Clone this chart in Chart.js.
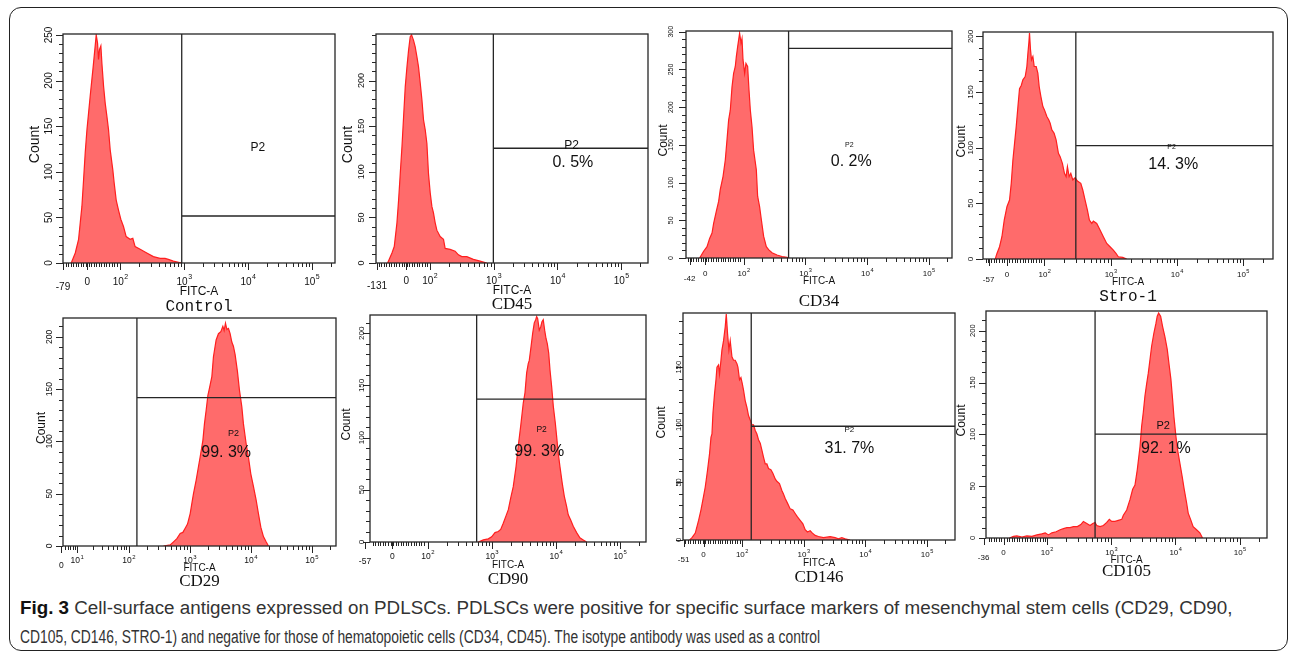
<!DOCTYPE html>
<html>
<head>
<meta charset="utf-8">
<script src="https://cdn.jsdelivr.net/npm/chart.js@4.4.0/dist/chart.umd.min.js"></script>
<style>
html, body { margin: 0; padding: 0; background: #fff; }
#fig { position: relative; width: 1290px; height: 660px; overflow: hidden; }
#frame { position: absolute; left: 9px; top: 7px; width: 1277px; height: 642px; border: 1.5px solid #222; border-radius: 12px; }
#fig canvas { position: absolute; }
.cap { position: absolute; left: 20px; font-family: "Liberation Sans", sans-serif; font-size: 18px; color: #333; white-space: nowrap; transform-origin: 0 0; }
.cap b { color: #111; }
</style>
</head>
<body>
<div id="fig">
  <div id="frame"></div>
  <div class="cap" id="cap1" style="top:598px"><b>Fig. 3</b> Cell-surface antigens expressed on PDLSCs. PDLSCs were positive for specific surface markers of mesenchymal stem cells (CD29, CD90,</div>
  <div class="cap" id="cap2" style="top:627px">CD105, CD146, STRO-1) and negative for those of hematopoietic cells (CD34, CD45). The isotype antibody was used as a control</div>
</div>
<script>
// histogram bins: [FITC-A display position (decades), count]
const controlHist = [[1.234,0],[1.297,11],[1.349,26],[1.375,44],[1.401,62],[1.427,91],[1.453,121],[1.48,146],[1.505,164],[1.531,183],[1.557,201],[1.573,212],[1.594,227],[1.609,238],[1.625,250],[1.646,241],[1.661,223],[1.677,234],[1.698,238],[1.714,219],[1.74,194],[1.766,175],[1.792,161],[1.818,146],[1.844,124],[1.885,102],[1.906,88],[1.938,69],[1.974,58],[2.01,48],[2.052,40],[2.094,29],[2.156,26],[2.198,27],[2.234,18],[2.313,15],[2.417,11],[2.52,7],[2.625,5],[2.703,5],[2.755,4],[2.833,2],[2.964,0]];
const cd45Hist = [[1.341,0],[1.409,11],[1.445,18],[1.487,44],[1.513,69],[1.539,98],[1.566,128],[1.591,160],[1.617,193],[1.644,215],[1.669,233],[1.695,248],[1.716,250],[1.747,244],[1.773,237],[1.8,226],[1.825,215],[1.852,197],[1.878,179],[1.903,157],[1.93,146],[1.956,131],[1.981,98],[2.008,77],[2.034,62],[2.059,55],[2.086,44],[2.112,36],[2.164,29],[2.216,26],[2.242,16],[2.32,15],[2.398,13],[2.45,9],[2.503,7],[2.581,7],[2.684,4],[2.789,2],[2.894,0]];
const cd34Hist = [[1.287,0],[1.352,9],[1.407,15],[1.449,26],[1.488,33],[1.514,46],[1.558,62],[1.595,75],[1.622,91],[1.666,108],[1.703,130],[1.731,157],[1.757,183],[1.784,196],[1.812,227],[1.838,245],[1.865,254],[1.882,267],[1.903,280],[1.919,289],[1.935,298],[1.958,285],[1.974,291],[1.99,263],[2.017,245],[2.038,258],[2.065,254],[2.087,223],[2.109,196],[2.136,174],[2.162,143],[2.206,117],[2.227,82],[2.259,68],[2.287,51],[2.324,29],[2.368,15],[2.405,11],[2.46,7],[2.541,4],[2.622,2],[2.703,1],[2.73,0]];
const stroHist = [[1.256,0],[1.282,5],[1.321,11],[1.357,20],[1.392,35],[1.433,47],[1.472,53],[1.498,68],[1.523,89],[1.548,104],[1.573,119],[1.599,137],[1.623,153],[1.649,156],[1.674,161],[1.709,164],[1.734,173],[1.75,185],[1.765,195],[1.774,203],[1.789,188],[1.804,179],[1.825,182],[1.845,173],[1.875,173],[1.9,167],[1.92,155],[1.946,146],[1.976,137],[2.0,134],[2.036,128],[2.066,125],[2.086,122],[2.112,116],[2.146,113],[2.176,107],[2.211,95],[2.237,92],[2.271,86],[2.302,77],[2.327,74],[2.347,83],[2.373,74],[2.398,77],[2.428,71],[2.463,73],[2.498,70],[2.549,68],[2.579,62],[2.614,53],[2.649,44],[2.679,35],[2.715,32],[2.739,34],[2.79,32],[2.84,26],[2.89,20],[2.941,14],[2.991,11],[3.041,8],[3.081,5],[3.116,2],[3.182,1.5],[3.243,0]];
const cd29Hist = [[2.573,0],[2.682,1],[2.737,4],[2.792,7],[2.846,12],[2.89,13],[2.928,17],[2.966,21],[3.01,31],[3.038,41],[3.064,50],[3.108,63],[3.146,76],[3.173,85],[3.218,101],[3.244,117],[3.272,130],[3.3,144],[3.326,151],[3.365,162],[3.391,181],[3.435,197],[3.473,203],[3.512,205],[3.545,210],[3.566,206],[3.588,213],[3.611,207],[3.637,208],[3.664,203],[3.692,195],[3.718,191],[3.746,183],[3.784,167],[3.817,149],[3.856,133],[3.882,117],[3.926,98],[3.964,85],[4.003,69],[4.046,57],[4.09,44],[4.128,31],[4.167,18],[4.21,9],[4.254,4],[4.292,0]];
const cd90Hist = [[2.79,0],[2.868,2],[2.946,3],[2.998,5],[3.05,9],[3.101,10],[3.139,12],[3.179,18],[3.222,25],[3.258,31],[3.295,42],[3.335,53],[3.378,72],[3.413,92],[3.451,111],[3.491,133],[3.518,143],[3.544,162],[3.569,171],[3.585,174],[3.612,187],[3.638,200],[3.663,210],[3.685,213],[3.7,216],[3.716,214],[3.741,203],[3.763,206],[3.783,211],[3.803,213],[3.825,203],[3.846,195],[3.866,190],[3.888,181],[3.908,165],[3.934,149],[3.96,130],[3.991,114],[4.012,101],[4.037,85],[4.064,72],[4.1,56],[4.131,44],[4.168,34],[4.193,26],[4.231,21],[4.271,15],[4.324,9],[4.375,4],[4.427,2],[4.479,0]];
const cd146Hist = [[1.151,0],[1.19,2],[1.243,6],[1.297,17],[1.335,26],[1.378,38],[1.405,46],[1.443,61],[1.475,75],[1.498,89],[1.514,92],[1.53,110],[1.556,127],[1.579,139],[1.595,150],[1.621,152],[1.637,144],[1.66,156],[1.676,165],[1.702,173],[1.729,185],[1.746,196],[1.767,179],[1.789,165],[1.81,173],[1.838,159],[1.864,156],[1.891,156],[1.919,153],[1.935,150],[1.961,139],[1.984,141],[2.005,136],[2.026,130],[2.053,121],[2.081,115],[2.107,108],[2.135,104],[2.162,100],[2.188,100],[2.216,95],[2.243,92],[2.269,87],[2.297,84],[2.324,78],[2.35,72],[2.378,66],[2.405,66],[2.431,62],[2.47,61],[2.502,58],[2.54,53],[2.567,51],[2.609,49],[2.648,43],[2.674,40],[2.702,36],[2.739,32],[2.783,27],[2.827,26],[2.864,23],[2.901,20],[2.945,17],[2.989,14],[3.026,9],[3.063,7],[3.107,8],[3.144,6],[3.188,4],[3.241,3],[3.323,2],[3.431,3],[3.512,2],[3.566,1],[3.621,2],[3.674,1],[3.755,0]];
const cd105Hist = [[1.419,0],[1.481,1.6],[1.534,2],[1.612,1],[1.689,2],[1.767,1.6],[1.845,3],[1.922,4],[1.974,5],[2.025,3],[2.078,5],[2.144,6],[2.207,8],[2.258,9],[2.311,10],[2.362,10],[2.413,11],[2.475,11],[2.528,13],[2.568,16],[2.621,14],[2.672,12],[2.714,14],[2.75,15],[2.776,12],[2.828,11],[2.879,12],[2.932,15],[2.972,18],[3.009,16],[3.061,16],[3.112,17],[3.165,18],[3.19,22],[3.242,27],[3.293,37],[3.335,47],[3.371,51],[3.407,66],[3.449,88],[3.475,108],[3.5,121],[3.526,137],[3.553,149],[3.578,159],[3.604,172],[3.63,185],[3.666,198],[3.697,207],[3.717,214],[3.739,217],[3.77,214],[3.801,204],[3.837,194],[3.873,182],[3.904,166],[3.93,153],[3.957,133],[3.977,117],[4.008,98],[4.034,85],[4.07,72],[4.106,59],[4.137,47],[4.174,34],[4.199,24],[4.236,18],[4.276,11],[4.329,8],[4.38,5],[4.422,0]];

// x tick positions (decades) and their labels; "10^k" is drawn with a superscript
const controlTicks = [1.105, 1.484, 2, 3, 4, 5];
const cd45Ticks = [1.175, 1.633, 2, 3, 4, 5];
const cd34Ticks = [1.125, 1.379, 2, 3, 4, 5];
const stroTicks = [1.155, 1.433, 2, 3, 4, 5];
const cd29Ticks = [0.899, 1.155, 2, 3, 4, 5];
const cd90Ticks = [1.022, 1.448, 2, 3, 4, 5];
const cd146Ticks = [1.053, 1.378, 2, 3, 4, 5];
const cd105Ticks = [1.016, 1.326, 2, 3, 4, 5];
const controlTickLabels = ['-79', '0', '10^2', '10^3', '10^4', '10^5'];
const cd45TickLabels = ['-131', '0', '10^2', '10^3', '10^4', '10^5'];
const cd34TickLabels = ['-42', '0', '10^2', '10^3', '10^4', '10^5'];
const stroTickLabels = ['-57', '0', '10^2', '10^3', '10^4', '10^5'];
const cd29TickLabels = ['0', '10^1', '10^2', '10^3', '10^4', '10^5'];
const cd90TickLabels = ['-57', '0', '10^2', '10^3', '10^4', '10^5'];
const cd146TickLabels = ['-51', '0', '10^2', '10^3', '10^4', '10^5'];
const cd105TickLabels = ['-36', '0', '10^2', '10^3', '10^4', '10^5'];

const countTicks200 = [0, 50, 100, 150, 200];
const controlCountTicks = [0, 50, 100, 150, 200, 250];
const cd34CountTicks = [0, 50, 100, 150, 200, 250, 300];
const cd146CountTicks = [0, 50, 100, 150];

// axis ranges: [xMin, xMax, countMax]
const controlRange = [1.105, 5.364, 251];
const cd45Range = [1.159, 5.419, 251];
const cd34Range = [1.066, 5.378, 301];
const stroRange = [1.071, 5.454, 204];
const cd29Range = [0.926, 5.399, 218];
const cd90Range = [1.1, 5.406, 217.5];
const cd146Range = [1.044, 5.457, 197];
const cd105Range = [1.053, 5.425, 219];

// P2 gate: [threshold position, marker level]
const controlGate = [2.964, 51.5];
const cd45Gate = [2.997, 125.8];
const cd34Gate = [2.729, 278];
const stroGate = [2.474, 101.9];
const cd29Gate = [2.137, 141.8];
const cd90Gate = [2.764, 136.8];
const cd146Gate = [2.151, 98.7];
const cd105Gate = [2.75, 100.3];

const titles = ['Control', 'CD45', 'CD34', 'Stro-1', 'CD29', 'CD90', 'CD146', 'CD105'];
const percents = ['', '0. 5%', '0. 2%', '14. 3%', '99. 3%', '99. 3%', '31. 7%', '92. 1%'];

// panel layout: plot box in page pixels, text sizes and offsets
const panels = [
  { hist: controlHist, ticks: controlTicks, tickLabels: controlTickLabels, yTicks: controlCountTicks, range: controlRange, gate: controlGate,
    box: [63, 34, 335, 263], p2At: [4.156, 126], pctAt: null, tickFont: 10, yFont: 10, yDx: 14, countFont: 14, countDx: 28, tickDy: 19,
    fitcFont: 12, fitcDy: 29, titleFont: '16px "Liberation Mono"', titleDy: 44, p2Font: 12 },
  { hist: cd45Hist, ticks: cd45Ticks, tickLabels: cd45TickLabels, yTicks: countTicks200, range: cd45Range, gate: cd45Gate,
    box: [376, 34, 648, 263], p2At: [4.222, 129], pctAt: [4.242, 110], tickFont: 10, yFont: 9, yDx: 14, countFont: 14, countDx: 28, tickDy: 18,
    fitcFont: 12, fitcDy: 28, titleFont: '17px "Liberation Serif"', titleDy: 42, p2Font: 12 },
  { hist: cd34Hist, ticks: cd34Ticks, tickLabels: cd34TickLabels, yTicks: cd34CountTicks, range: cd34Range, gate: cd34Gate,
    box: [686, 31, 952, 258], p2At: [3.713, 150], pctAt: [3.745, 128], tickFont: 8, yFont: 7, yDx: 15, countFont: 12, countDx: 22, tickDy: 16,
    fitcFont: 10, fitcDy: 23, titleFont: '17px "Liberation Serif"', titleDy: 44, p2Font: 7 },
  { hist: stroHist, ticks: stroTicks, tickLabels: stroTickLabels, yTicks: countTicks200, range: stroRange, gate: stroGate,
    box: [983, 32, 1273, 259], p2At: [3.922, 101], pctAt: [3.946, 85], tickFont: 8, yFont: 8, yDx: 12, countFont: 12, countDx: 21, tickDy: 16,
    fitcFont: 10, fitcDy: 23, titleFont: '16px "Liberation Mono"', titleDy: 38, p2Font: 7 },
  { hist: cd29Hist, ticks: cd29Ticks, tickLabels: cd29TickLabels, yTicks: countTicks200, range: cd29Range, gate: cd29Gate,
    box: [63, 318, 336, 546], p2At: [3.718, 108], pctAt: [3.599, 89], tickFont: 8.5, yFont: 8.5, yDx: 13, countFont: 12, countDx: 21, tickDy: 15,
    fitcFont: 10, fitcDy: 22.5, titleFont: '17px "Liberation Serif"', titleDy: 36, p2Font: 9 },
  { hist: cd90Hist, ticks: cd90Ticks, tickLabels: cd90TickLabels, yTicks: countTicks200, range: cd90Range, gate: cd90Gate,
    box: [370, 315, 646, 542], p2At: [3.778, 107.5], pctAt: [3.741, 86.7], tickFont: 8.5, yFont: 8, yDx: 8, countFont: 12, countDx: 23, tickDy: 14.5,
    fitcFont: 10, fitcDy: 23, titleFont: '17px "Liberation Serif"', titleDy: 38, p2Font: 8.5 },
  { hist: cd146Hist, ticks: cd146Ticks, tickLabels: cd146TickLabels, yTicks: cd146CountTicks, range: cd146Range, gate: cd146Gate,
    box: [683, 313, 955, 540], p2At: [3.744, 96], pctAt: [3.744, 79], tickFont: 8, yFont: 7.5, yDx: 4, countFont: 12, countDx: 21, tickDy: 15,
    fitcFont: 10, fitcDy: 23, titleFont: '17px "Liberation Serif"', titleDy: 38, p2Font: 8 },
  { hist: cd105Hist, ticks: cd105Ticks, tickLabels: cd105TickLabels, yTicks: countTicks200, range: cd105Range, gate: cd105Gate,
    box: [986, 311, 1267, 538], p2At: [3.811, 108], pctAt: [3.852, 86], tickFont: 8, yFont: 7.5, yDx: 13, countFont: 12, countDx: 24, tickDy: 15,
    fitcFont: 10, fitcDy: 22, titleFont: '17px "Liberation Serif"', titleDy: 34, p2Font: 11 }
];

const PAD = { left: 60, top: 12, right: 12, bottom: 60 };
const INK = '#262626';
const SANS = '"Liberation Sans", Arial, sans-serif';

function tickLabel(ctx, text, x, y, size) {
  ctx.textBaseline = 'middle';
  if (!text.startsWith('10^')) {
    ctx.font = `${size}px ${SANS}`;
    ctx.textAlign = 'center';
    ctx.fillText(text, x, y);
    return;
  }
  const exp = text.slice(3);
  ctx.font = `${size}px ${SANS}`;
  const w1 = ctx.measureText('10').width;
  ctx.font = `${size * 0.7}px ${SANS}`;
  const w2 = ctx.measureText(exp).width;
  const x0 = x - (w1 + w2) / 2;
  ctx.textAlign = 'left';
  ctx.font = `${size}px ${SANS}`;
  ctx.fillText('10', x0, y);
  ctx.font = `${size * 0.7}px ${SANS}`;
  ctx.fillText(exp, x0 + w1 + 0.5, y - size * 0.45);
}

// minor tick positions: dense comb in the linear part, log steps between decades
function minorTicks(p) {
  const out = [];
  const decades = p.ticks.filter((t, i) => p.tickLabels[i].startsWith('10^'));
  for (let v = p.range[0] + 0.04; v < decades[0] - 0.02; v += 0.04) out.push(v);
  for (let i = 0; i < decades.length; i++) {
    const a = decades[i];
    const span = i < decades.length - 1 ? decades[i + 1] - a : a - decades[i - 1];
    for (let m = 2; m <= 9; m++) {
      const v = a + Math.log10(m) * span;
      if (v <= p.range[1]) out.push(v);
    }
  }
  return out;
}

function axesPlugin(p, idx) {
  return {
    id: 'flowAxes' + idx,
    afterDatasetsDraw(chart) {
      const { ctx, chartArea: a, scales: { x, y } } = chart;
      ctx.save();
      ctx.strokeStyle = INK;
      ctx.fillStyle = '#111';
      ctx.lineWidth = 1.3;

      // plot frame
      ctx.strokeRect(a.left, a.top, a.right - a.left, a.bottom - a.top);

      // P2 gate: threshold line plus marker level to the right of it
      const gx = x.getPixelForValue(p.gate[0]);
      const gy = y.getPixelForValue(p.gate[1]);
      ctx.beginPath();
      ctx.moveTo(gx, a.top); ctx.lineTo(gx, a.bottom);
      ctx.moveTo(gx, gy); ctx.lineTo(a.right, gy);
      ctx.stroke();

      // x ticks below the axis
      ctx.lineWidth = 1;
      ctx.beginPath();
      p.ticks.forEach(v => {
        const px = Math.round(x.getPixelForValue(v)) + 0.5;
        ctx.moveTo(px, a.bottom); ctx.lineTo(px, a.bottom + 7);
      });
      minorTicks(p).forEach(v => {
        const px = Math.round(x.getPixelForValue(v)) + 0.5;
        ctx.moveTo(px, a.bottom); ctx.lineTo(px, a.bottom + 4);
      });
      // y ticks left of the axis
      for (let c = 0; c <= p.range[2]; c += 10) {
        const py = Math.round(y.getPixelForValue(c)) + 0.5;
        const len = p.yTicks.includes(c) ? 7 : 4;
        ctx.moveTo(a.left, py); ctx.lineTo(a.left - len, py);
      }
      ctx.stroke();

      // x tick labels
      p.ticks.forEach((v, i) => {
        const dy = i === 0 ? p.tickDy + 5 : p.tickDy;
        tickLabel(ctx, p.tickLabels[i], x.getPixelForValue(v), a.bottom + dy, p.tickFont);
      });

      // y tick labels, rotated
      ctx.font = `${p.yFont}px ${SANS}`;
      ctx.textAlign = 'center';
      ctx.textBaseline = 'middle';
      p.yTicks.forEach(v => {
        ctx.save();
        ctx.translate(a.left - p.yDx, y.getPixelForValue(v));
        ctx.rotate(-Math.PI / 2);
        ctx.fillText(String(v), 0, 0);
        ctx.restore();
      });

      // axis titles
      const midX = (a.left + a.right) / 2;
      ctx.save();
      ctx.font = `${p.countFont}px ${SANS}`;
      ctx.translate(a.left - p.countDx, (a.top + a.bottom) / 2 - 4);
      ctx.rotate(-Math.PI / 2);
      ctx.fillText('Count', 0, 0);
      ctx.restore();
      ctx.font = `${p.fitcFont}px ${SANS}`;
      ctx.fillText('FITC-A', midX, a.bottom + p.fitcDy);
      ctx.font = p.titleFont;
      ctx.fillText(titles[idx], midX, a.bottom + p.titleDy);

      // gate annotations
      ctx.font = `${p.p2Font}px ${SANS}`;
      ctx.fillText('P2', x.getPixelForValue(p.p2At[0]), y.getPixelForValue(p.p2At[1]));
      if (p.pctAt) {
        ctx.font = `16px ${SANS}`;
        ctx.fillText(percents[idx], x.getPixelForValue(p.pctAt[0]), y.getPixelForValue(p.pctAt[1]));
      }
      ctx.restore();
    }
  };
}

const fig = document.getElementById('fig');
panels.forEach((p, idx) => {
  const [l, t, r, b] = p.box;
  const canvas = document.createElement('canvas');
  canvas.width = r - l + PAD.left + PAD.right;
  canvas.height = b - t + PAD.top + PAD.bottom;
  canvas.style.left = (l - PAD.left) + 'px';
  canvas.style.top = (t - PAD.top) + 'px';
  fig.appendChild(canvas);

  new Chart(canvas.getContext('2d'), {
    type: 'line',
    data: {
      datasets: [{
        data: p.hist.map(([v, c]) => ({ x: v, y: c })),
        borderColor: '#ff1f1f',
        borderWidth: 1.2,
        backgroundColor: '#ff6b6b',
        fill: 'origin',
        pointRadius: 0,
        tension: 0
      }]
    },
    options: {
      responsive: false,
      animation: false,
      layout: { padding: PAD },
      plugins: { legend: { display: false }, tooltip: { enabled: false } },
      scales: {
        x: { type: 'linear', min: p.range[0], max: p.range[1], display: false },
        y: { min: 0, max: p.range[2], display: false }
      }
    },
    plugins: [axesPlugin(p, idx)]
  });
});

// caption lines: the first runs to the full column width, the last one stops short
const cap1 = document.getElementById('cap1'), cap2 = document.getElementById('cap2');
cap1.style.transform = `scaleX(${1212 / cap1.scrollWidth})`;
cap2.style.transform = `scaleX(${800 / cap2.scrollWidth})`;
</script>
</body>
</html>
